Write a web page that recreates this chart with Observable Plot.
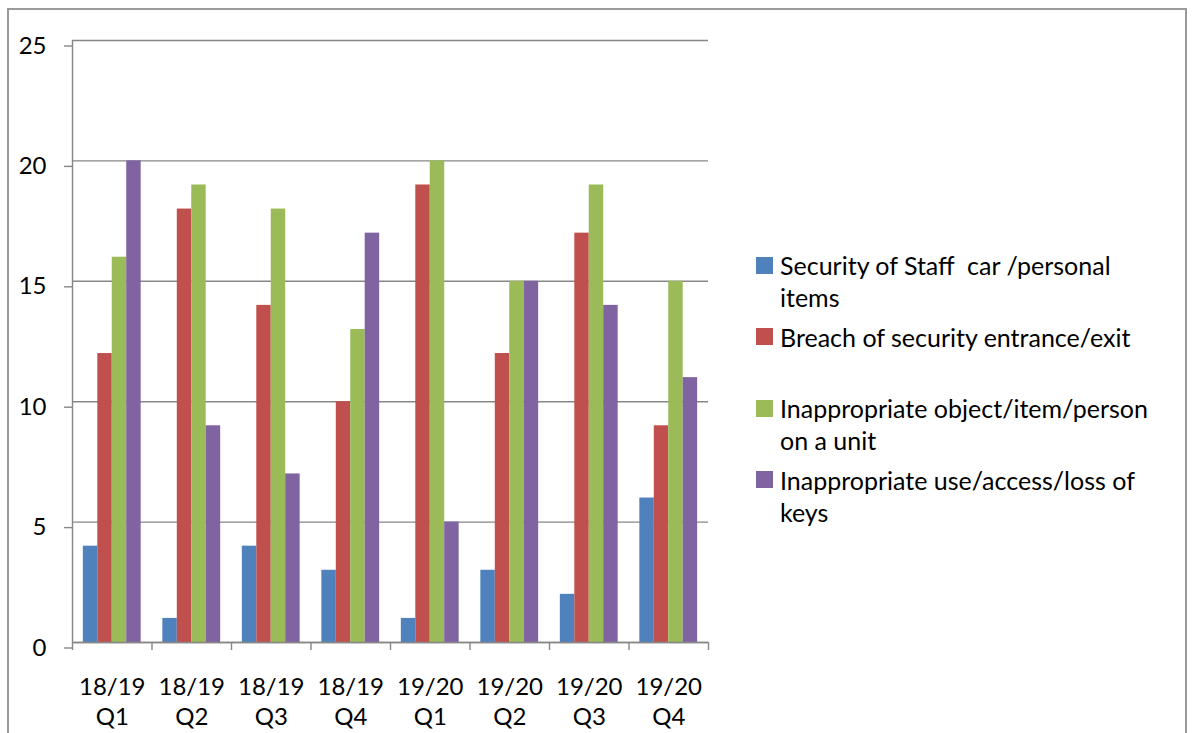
<!DOCTYPE html>
<html>
<head>
<meta charset="utf-8">
<script src="https://cdn.jsdelivr.net/npm/d3@7"></script>
<script src="https://cdn.jsdelivr.net/npm/@observablehq/plot@0.6"></script>
<style>
  html, body { margin: 0; padding: 0; background: #fff; }
  #stage { position: relative; width: 1192px; height: 733px; overflow: hidden; font-family: Lato, "Open Sans", sans-serif; }
  #border { position: absolute; left: 7px; top: 8px; width: 1176px; height: 900px; border: 2px solid #9a9a9a; }
  #chart { position: absolute; left: 0; top: 0; }
  #legend { position: absolute; left: 756px; top: 249px; }
  .item { display: flex; align-items: flex-start; height: 71.5px; }
  .swatch { flex: none; width: 17px; height: 17px; margin-top: 7.5px; margin-right: 7px; }
  .label { width: 382px; font-size: 25px; line-height: 32px; color: #000; white-space: pre-wrap; }
</style>
</head>
<body>
<div id="stage">
  <div id="border"></div>
  <div id="chart"></div>
  <div id="legend"></div>
</div>
<script>
// Reporting periods (financial year / quarter)
const years = ["18/19", "18/19", "18/19", "18/19", "19/20", "19/20", "19/20", "19/20"];
const quarters = ["Q1", "Q2", "Q3", "Q4", "Q1", "Q2", "Q3", "Q4"];

// Incident categories and their colours
const seriesNames = [
  "Security of Staff  car /personal items",
  "Breach of security entrance/exit",
  "Inappropriate object/item/person on a unit",
  "Inappropriate use/access/loss of keys"
];
const seriesColors = ["#4F81BD", "#C0504D", "#9BBB59", "#8064A2"];

// Incident counts per period, one array per category
const staffProperty = [4, 1, 4, 3, 1, 3, 2, 6];
const entranceExit  = [12, 18, 14, 10, 19, 12, 17, 9];
const objectOnUnit  = [16, 19, 18, 13, 20, 15, 19, 15];
const keys          = [20, 9, 7, 17, 5, 15, 14, 11];

const yTicks = [0, 5, 10, 15, 20, 25];

const seriesValues = [staffProperty, entranceExit, objectOnUnit, keys];
const nSeries = seriesValues.length;
// Clustered layout: gap between clusters equals 1.5 bar widths
const gap = 1.5;
const slot = 1 / (nSeries + gap);

const rows = [];
seriesValues.forEach((vals, s) => {
  vals.forEach((v, i) => {
    const x1 = i + (gap / 2 + s) * slot;
    rows.push({period: i, series: seriesNames[s], x1, x2: x1 + slot, value: v});
  });
});

const labels = years.map((y, i) => ({x: i + 0.5, text: `${y}\n${quarters[i]}`}));
const axisGray = "#878787";

const chart = Plot.plot({
  width: 720,
  height: 733,
  marginLeft: 72,
  marginRight: 12,
  marginTop: 40,
  marginBottom: 91,
  style: {fontFamily: "Lato, 'Open Sans', sans-serif", background: "transparent"},
  x: {type: "linear", domain: [0, years.length], axis: null},
  y: {domain: [0, 25], axis: null},
  color: {domain: seriesNames, range: seriesColors},
  marks: [
    Plot.gridY(yTicks, {stroke: axisGray, strokeOpacity: 1, strokeWidth: 1.4}),
    Plot.axisY({ticks: yTicks, tickSize: 8, tickPadding: 18, stroke: axisGray, strokeWidth: 1.4,
      fontSize: 24, fill: "#000", dy: 5.5, label: null}),
    Plot.rectY(rows, {x1: "x1", x2: "x2", y: "value", fill: "series", inset: 0}),
    Plot.ruleX([0], {stroke: axisGray, strokeWidth: 1.4}),
    Plot.ruleY([0], {stroke: axisGray, strokeWidth: 1.4}),
    Plot.axisX({ticks: d3.range(years.length + 1), tickSize: 8, tickFormat: () => "",
      stroke: axisGray, strokeWidth: 1.4, label: null}),
    Plot.text(labels, {x: "x", y: () => 0, text: "text", dy: 58, fontSize: 24,
      lineHeight: 1.27, fill: "#000"})
  ]
});
document.getElementById("chart").append(chart);

const legend = d3.select("#legend");
seriesNames.forEach((name, s) => {
  const item = legend.append("div").attr("class", "item");
  item.append("div").attr("class", "swatch").style("background", seriesColors[s]);
  item.append("div").attr("class", "label").text(name);
});
</script>
</body>
</html>
